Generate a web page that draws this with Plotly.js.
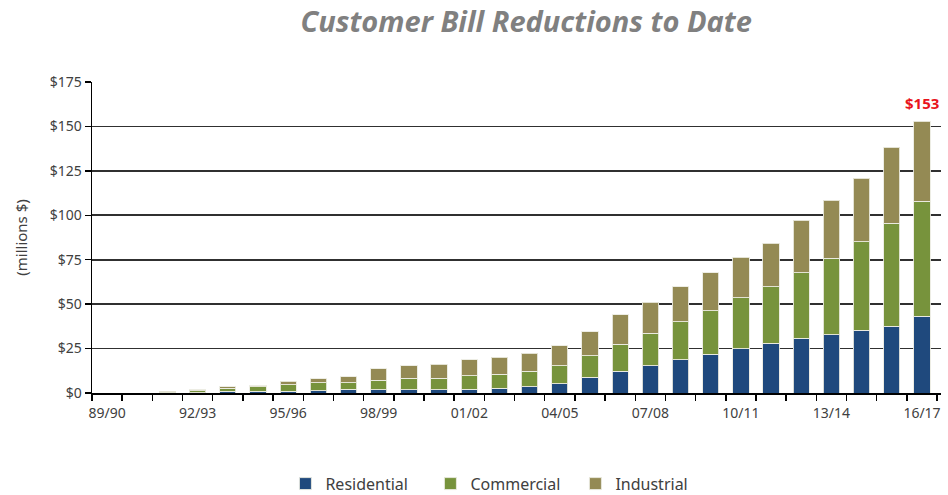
<!DOCTYPE html>
<html>
<head>
<meta charset="utf-8">
<script src="https://cdn.plot.ly/plotly-3.0.1.min.js"></script>
<style>html,body{margin:0;padding:0;background:#fff;}#chart{width:948px;height:495px;}</style>
</head>
<body>
<div id="chart"></div>
<script>
const years = ["89/90","90/91","91/92","92/93","93/94","94/95","95/96","96/97","97/98","98/99",
  "99/00","00/01","01/02","02/03","03/04","04/05","05/06","06/07","07/08","08/09",
  "09/10","10/11","11/12","12/13","13/14","14/15","15/16","16/17"];
const residential = [0,0,0.1,0.2,0.9,0.9,1.1,1.2,2.0,1.8,1.8,1.8,2.1,2.6,3.6,5.1,9.0,12.2,15.4,18.6,21.8,24.8,28.0,30.7,32.9,35.4,37.6,43.3];
const commercial  = [0,0,0.5,1.0,1.9,2.6,3.6,4.5,3.9,5.4,6.4,6.4,7.6,7.9,8.6,10.3,12.1,15.1,18.3,21.5,24.5,28.8,31.8,37.0,42.9,49.8,57.9,64.7];
const industrial  = [0,0,0.5,0.7,0.7,0.7,1.9,2.4,3.2,6.5,7.2,7.9,8.9,9.5,10.2,11.1,13.5,16.7,17.5,19.7,21.4,22.9,24.6,29.4,32.6,35.6,42.8,45.0];
const yTicks = [0,25,50,75,100,125,150,175];
const yTickText = ["$0","$25","$50","$75","$100","$125","$150","$175"];
const labelEvery = 3;
const xTickText = years.map((y,i) => i % labelEvery === 0 ? y : "");
const totalLabel = "$153";

const border = {color:"rgba(235,235,225,0.9)", width:1};
const traces = [
  {type:"bar", name:"Residential", x:years, y:residential, marker:{color:"#1f497d", line:border}},
  {type:"bar", name:"Commercial", x:years, y:commercial, marker:{color:"#77933c", line:border}},
  {type:"bar", name:"Industrial", x:years, y:industrial, marker:{color:"#948a54", line:border}}
];
const total = residential.map((r,i)=>r+commercial[i]+industrial[i]);
const last = years.length-1;

const font = {family:"'Noto Sans', 'Open Sans', sans-serif", color:"#404040", size:13};
const layout = {
  width:948, height:495,
  barmode:"stack", bargap:0.46,
  paper_bgcolor:"#fff", plot_bgcolor:"#fff",
  margin:{l:92, r:7, t:82, b:102, autoexpand:false},
  font:font,
  title:{text:"<b><i>Customer Bill Reductions to Date</i></b>", x:0.555, xanchor:"center", y:0.955, yanchor:"middle",
    font:{family:"'Open Sans', 'Noto Sans', sans-serif", size:29, color:"#808080"}},
  xaxis:{type:"category", tickmode:"array", tickvals:years, ticktext:xTickText, tickson:"boundaries", tickangle:0,
    automargin:false, ticklabelstandoff:7,
    ticks:"outside", ticklen:6, tickcolor:"#000", tickwidth:1.5, showline:true, linecolor:"#000", linewidth:1.5,
    showgrid:false, tickfont:{size:14, color:"#404040"}, fixedrange:true},
  yaxis:{range:[0,175], tickvals:yTicks, ticktext:yTickText, ticks:"outside", ticklen:6, tickcolor:"#000", tickwidth:1.5,
    automargin:false,
    showline:true, linecolor:"#000", linewidth:1.5, showgrid:true, gridcolor:"#303030", gridwidth:1.6,
    zeroline:false, tickfont:{size:14, color:"#404040"},
    title:{text:"(millions $)", font:{size:15, color:"#404040"}, standoff:18}},
  legend:{orientation:"h", x:0.484, xanchor:"center", y:-0.237, yanchor:"top", font:{size:16, color:"#404040"},
    itemwidth:30, entrywidth:100, traceorder:"normal", itemclick:false},
  annotations:[{x:years[last], y:total[last], text:"<b>"+totalLabel+"</b>", showarrow:false, yanchor:"bottom", yshift:6,
    font:{size:15, color:"#e8141c", family:"'Noto Sans', sans-serif"}}],
  showlegend:true
};
Plotly.newPlot("chart", traces, layout, {displayModeBar:false, staticPlot:true});
</script>
</body>
</html>
